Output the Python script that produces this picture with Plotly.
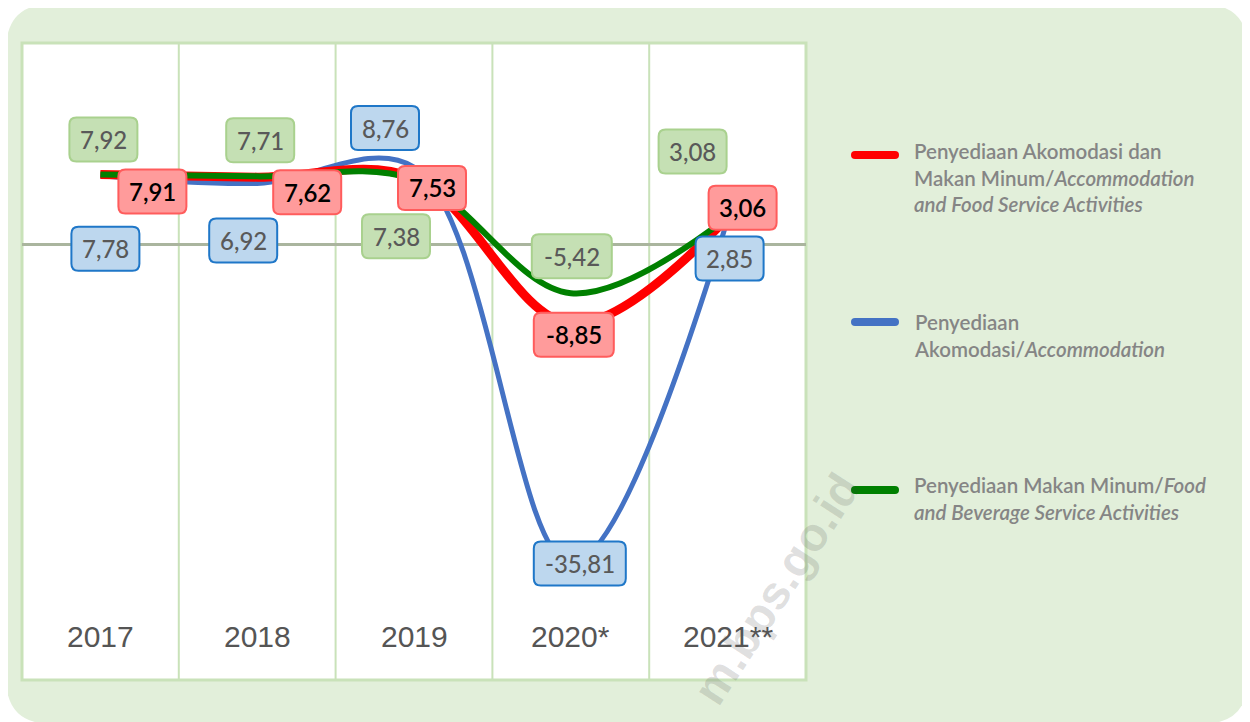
import plotly.graph_objects as go

# ---------------- data ----------------
years = ["2017", "2018", "2019", "2020*", "2021**"]
total_vals = [7.91, 7.62, 7.53, -8.85, 3.06]          # Akomodasi dan Makan Minum
accom_vals = [7.78, 6.92, 8.76, -35.81, 2.85]         # Akomodasi
food_vals = [7.92, 7.71, 7.38, -5.42, 3.08]           # Makan Minum

legend_total = "Penyediaan Akomodasi dan<br>Makan Minum/<i>Accommodation</i><br><i>and Food Service Activities</i>"
legend_accom = "Penyediaan<br>Akomodasi/<i>Accommodation</i>"
legend_food = "Penyediaan Makan Minum/<i>Food</i><br><i>and Beverage Service Activities</i>"

# label offsets (pixels) relative to the data point
total_shift = [(52, -17), (50, -15), (18, -10), (3, -11), (15, 10)]
accom_shift = [(5, -73), (-14, -57), (-29, 39), (9, 0), (2, -39)]
food_shift = [(3, 35), (3, 36), (-18, -57), (1, 37), (-35, 66)]

# ---------------- geometry ----------------
OFF = 8                       # browser body margin
W, H = 1250 - OFF, 722 - OFF  # figure size
PL, PR, PT, PB = 22, 806, 43, 680   # plot area in page pixels
YMIN, YMAX = -48.9, 22.7


def px(x):
    return (x - PL) / (PR - PL)


def py(y):
    return (PB - y) / (PB - PT)


def fmt(v):
    return f"{v:.2f}".replace(".", ",")


def rrect_pixels(cx, cy, w, h, r):
    """rounded rectangle path in pixel offsets (y up)"""
    xl, xr, yb, yt = cx - w / 2, cx + w / 2, cy - h / 2, cy + h / 2
    return (f"M {xl + r},{yb} L {xr - r},{yb} Q {xr},{yb} {xr},{yb + r} "
            f"L {xr},{yt - r} Q {xr},{yt} {xr - r},{yt} L {xl + r},{yt} "
            f"Q {xl},{yt} {xl},{yt - r} L {xl},{yb + r} Q {xl},{yb} {xl + r},{yb} Z")


def rrect_paper(x0, y0, x1, y1, r):
    """rounded rectangle path in paper coords from page pixel box"""
    return (
        f"M {px(x0 + r)},{py(y0)} L {px(x1 - r)},{py(y0)} "
        f"Q {px(x1)},{py(y0)} {px(x1)},{py(y0 + r)} "
        f"L {px(x1)},{py(y1 - r)} Q {px(x1)},{py(y1)} {px(x1 - r)},{py(y1)} "
        f"L {px(x0 + r)},{py(y1)} Q {px(x0)},{py(y1)} {px(x0)},{py(y1 - r)} "
        f"L {px(x0)},{py(y0 + r)} Q {px(x0)},{py(y0)} {px(x0 + r)},{py(y0)} Z"
    )


x_idx = list(range(len(years)))

fig = go.Figure()

series = [
    (accom_vals, "#4472C4", 5, "Penyediaan Akomodasi/Accommodation"),
    (total_vals, "#FF0000", 9, "Penyediaan Akomodasi dan Makan Minum"),
    (food_vals, "#008000", 6, "Penyediaan Makan Minum/Food"),
]
for vals, col, w, name in series:
    fig.add_trace(go.Scatter(
        x=x_idx, y=vals, mode="lines", name=name,
        line=dict(color=col, width=w, shape="spline", smoothing=1.0),
        hoverinfo="x+y", showlegend=False,
    ))

shapes = []
# rounded green background
shapes.append(dict(type="path", path=rrect_paper(6, 4, 1248, 724, 46), xref="paper", yref="paper",
                   fillcolor="#E2EFDA", line=dict(width=0), layer="below"))
# white plot area with green border
shapes.append(dict(type="rect", xref="paper", yref="paper", x0=0, x1=1, y0=0, y1=1,
                   fillcolor="white", line=dict(color="#C9E2B9", width=3), layer="below"))
# column separators
for i in range(1, len(years)):
    shapes.append(dict(type="line", xref="x", yref="paper", x0=i - 0.5, x1=i - 0.5,
                       y0=0, y1=1, line=dict(color="#C9E2B9", width=2), layer="below"))

annotations = []

# faint watermark (drawn first, under other texts)
annotations.append(dict(
    xref="paper", yref="paper", x=px(776), y=py(588), xanchor="center", yanchor="middle",
    text="m.bps.go.id", showarrow=False, textangle=-57,
    font=dict(family="Liberation Sans, Arial, sans-serif", size=47, weight="bold",
              color="rgba(60,60,60,0.17)"),
))

# legend samples
legend_items = [
    ("#FF0000", 155, 137, legend_total),
    ("#4472C4", 322, 308, legend_accom),
    ("#008000", 490, 471, legend_food),
]
for col, ly, ty, txt in legend_items:
    shapes.append(dict(type="path", path=rrect_paper(851, ly - 4, 899, ly + 4, 4),
                       xref="paper", yref="paper", fillcolor=col, line=dict(width=0)))
    annotations.append(dict(
        xref="paper", yref="paper", x=px(912), y=py(ty), xanchor="left", yanchor="top",
        text=txt, showarrow=False, align="left",
        font=dict(family="Lato, Noto Sans, sans-serif", size=20.5, weight=600, color="#858585"),
    ))

# year labels
for i, yr in enumerate(years):
    annotations.append(dict(
        xref="x", yref="paper", x=i, y=py(636), xanchor="center", yanchor="middle",
        text=yr, showarrow=False,
        font=dict(family="Liberation Sans, Arial, sans-serif", size=30, color="#555555"),
    ))

# data labels: rounded boxes anchored to data points + text
label_styles = [
    (accom_vals, accom_shift, "#BDD7EE", "#1F77C8", "#595959", 500),
    (food_vals, food_shift, "#C5E0B4", "#A9D18E", "#595959", 500),
    (total_vals, total_shift, "#FF9B9B", "#FF5C5C", "#000000", 600),
]
for vals, shifts, fill, border, fcol, fw in label_styles:
    for i, v in enumerate(vals):
        t = fmt(v)
        bw = {4: 68, 5: 80, 6: 92}.get(len(t), 68)
        sx, sy = shifts[i]
        shapes.append(dict(
            type="path", xref="x", yref="y", xsizemode="pixel", ysizemode="pixel",
            xanchor=i, yanchor=v, path=rrect_pixels(sx, sy, bw, 44, 7),
            fillcolor=fill, line=dict(color=border, width=2), layer="above",
        ))
        annotations.append(dict(
            x=i, y=v, xref="x", yref="y", text=t, showarrow=False,
            xanchor="center", yanchor="middle",
            xshift=sx, yshift=sy,
            font=dict(family="Lato, Noto Sans, sans-serif", size=24, weight=fw, color=fcol),
        ))

fig.update_layout(
    width=W, height=H,
    margin=dict(l=PL - OFF, r=W - (PR - OFF), t=PT - OFF, b=H - (PB - OFF)),
    paper_bgcolor="white",
    plot_bgcolor="rgba(0,0,0,0)",
    shapes=shapes,
    annotations=annotations,
    showlegend=False,
    xaxis=dict(range=[-0.5, len(years) - 0.5], showgrid=False, zeroline=False,
               showticklabels=False, ticks="", fixedrange=True),
    yaxis=dict(range=[YMIN, YMAX], showgrid=False, zeroline=True,
               zerolinecolor="#AAB59E", zerolinewidth=3,
               showticklabels=False, ticks="", fixedrange=True),
)

fig.write_html("out.html")
